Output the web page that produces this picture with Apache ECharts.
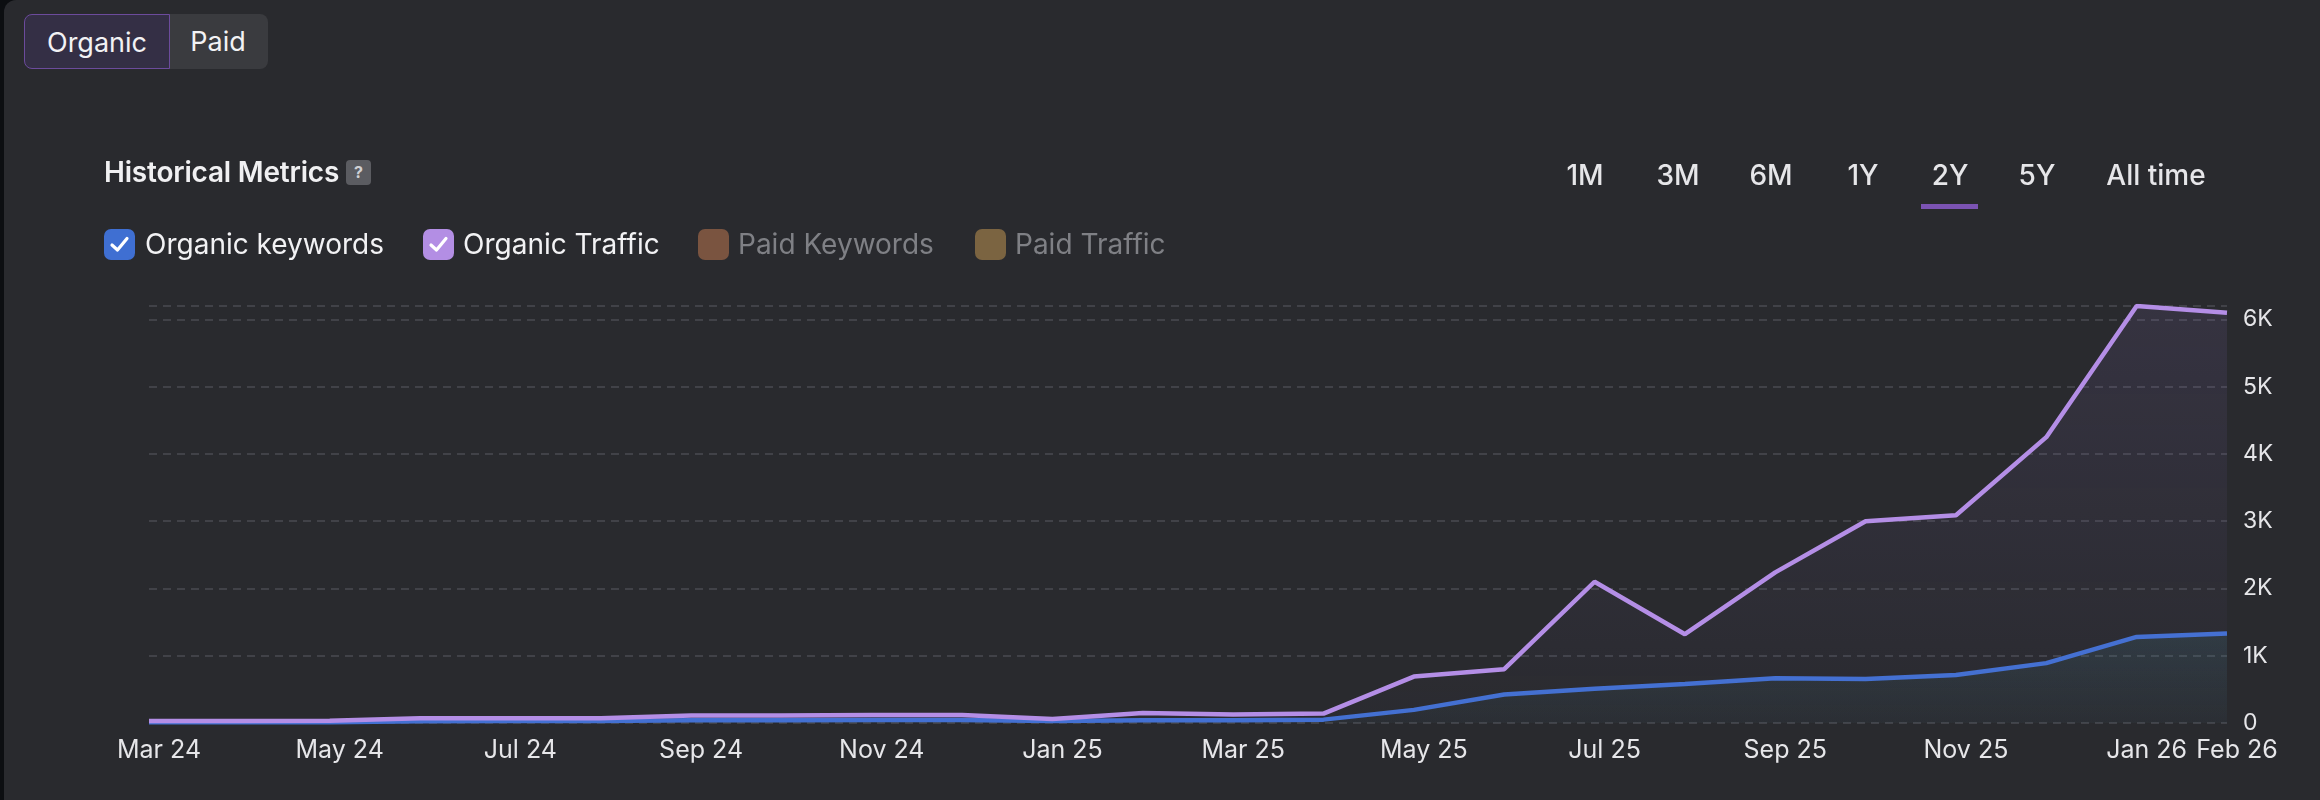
<!DOCTYPE html>
<html>
<head>
<meta charset="utf-8">
<script src="https://cdn.jsdelivr.net/npm/echarts@6/dist/echarts.min.js"></script>
<style>
html,body{margin:0;padding:0;width:2320px;height:800px;overflow:hidden;background:#0c0e11;font-family:Inter,"Noto Sans",sans-serif;}
#panel{position:absolute;left:4px;top:0;width:2316px;height:800px;background:#292a2e;border-top-left-radius:12px;}
#chart{position:absolute;left:0;top:0;width:2320px;height:800px;}
.abs{position:absolute;white-space:nowrap;}
.tog{position:absolute;top:14px;height:55px;line-height:55px;font-size:27px;color:#f2f2f4;text-align:center;box-sizing:border-box;}
#tOrg{left:24px;width:146px;background:#342f45;border:1.5px solid #6c4b9c;border-radius:8px 0 0 8px;z-index:2;}
#tPaid{left:168px;width:100px;background:#3a3b3f;border-radius:0 8px 8px 0;}
#title{left:104px;top:155px;font-size:28px;font-weight:600;color:#f0f0f2;line-height:34px;letter-spacing:-0.2px;}
#help{left:346px;top:160px;width:25px;height:25px;border-radius:4px;background:#5b5c61;color:#cfd0d4;font-size:16px;font-weight:700;line-height:25px;text-align:center;}
.cb{position:absolute;top:229px;width:31px;height:31px;border-radius:7px;}
.cb svg{position:absolute;left:5px;top:6px;}
.lt{position:absolute;top:227px;line-height:35px;font-size:28px;}
.tab{position:absolute;top:157px;line-height:36px;font-size:28px;font-weight:500;color:#e6e6e9;transform:translateX(-50%);}
#ul{left:1921px;top:204px;width:57px;height:5px;background:#7b53b3;}
</style>
</head>
<body>
<div id="panel"></div>
<div id="chart"></div>
<div id="tOrg" class="tog">Organic</div>
<div id="tPaid" class="tog">Paid</div>
<div id="title" class="abs">Historical Metrics</div>
<div id="help" class="abs">?</div>

<div class="cb" style="left:104px;background:#3f6fd2;"><svg width="21" height="19" viewBox="0 0 21 19"><path d="M3 10 L8.5 15 L18 3.5" fill="none" stroke="#fff" stroke-width="3.2" stroke-linecap="round" stroke-linejoin="round"/></svg></div>
<div class="lt" style="left:145px;color:#f2f2f4;">Organic keywords</div>
<div class="cb" style="left:423px;background:#b38ee4;"><svg width="21" height="19" viewBox="0 0 21 19"><path d="M3 10 L8.5 15 L18 3.5" fill="none" stroke="#fff" stroke-width="3.2" stroke-linecap="round" stroke-linejoin="round"/></svg></div>
<div class="lt" style="left:463px;color:#f2f2f4;">Organic Traffic</div>
<div class="cb" style="left:698px;background:#7a5440;"></div>
<div class="lt" style="left:738px;color:#7f8085;">Paid Keywords</div>
<div class="cb" style="left:975px;background:#7b6441;"></div>
<div class="lt" style="left:1015px;color:#7f8085;">Paid Traffic</div>

<div class="tab" style="left:1585px;">1M</div>
<div class="tab" style="left:1678px;">3M</div>
<div class="tab" style="left:1771px;">6M</div>
<div class="tab" style="left:1863px;">1Y</div>
<div class="tab" style="left:1950px;">2Y</div>
<div class="tab" style="left:2037px;">5Y</div>
<div class="tab" style="left:2156px;">All time</div>
<div id="ul" class="abs"></div>

<script>
var months = ['Mar 24','Apr 24','May 24','Jun 24','Jul 24','Aug 24','Sep 24','Oct 24','Nov 24','Dec 24','Jan 25','Feb 25',
              'Mar 25','Apr 25','May 25','Jun 25','Jul 25','Aug 25','Sep 25','Oct 25','Nov 25','Dec 25','Jan 26','Feb 26'];
var organicKeywords = [10,10,12,25,28,30,40,42,45,45,30,40,40,50,195,425,510,580,665,655,715,890,1280,1330];
var organicTraffic  = [30,30,32,70,70,72,110,112,120,118,60,150,125,140,690,800,2100,1320,2240,3000,3090,4250,6200,6100];
var yTicks = [0,1000,2000,3000,4000,5000,6000];
var yMax = 6200;

var chart = echarts.init(document.getElementById('chart'), null, {renderer:'canvas'});
var G = echarts.graphic;
chart.setOption({
  backgroundColor: 'transparent',
  animation: false,
  grid: {left: 149, right: 93, top: 306, bottom: 77, containLabel: false},
  xAxis: {
    type: 'category', data: months, boundaryGap: false,
    axisLine: {show: false}, axisTick: {show: false}, splitLine: {show: false},
    axisLabel: {
      color: '#e6e6e9', fontSize: 25, fontFamily: 'Inter', margin: 15,
      padding: [0,0,0,20],
      interval: function (i) { return i % 2 === 0 || i === months.length - 1; }
    }
  },
  yAxis: {
    type: 'value', position: 'right', min: 0, max: yMax, interval: 1000,
    axisLine: {show: false}, axisTick: {show: false},
    splitLine: {lineStyle: {color: '#4a4b51', width: 1.5, type: [8, 6]}},
    axisLabel: {
      color: '#e6e6e9', fontSize: 23, fontFamily: 'Inter', margin: 16,
      formatter: function (v) {
        if (yTicks.indexOf(v) < 0) return '';
        return v === 0 ? '0' : (v / 1000) + 'K';
      }
    }
  },
  series: [
    {
      name: 'Organic keywords', type: 'line', data: organicKeywords,
      symbol: 'none', lineStyle: {color: '#4270d2', width: 4.5}, itemStyle: {color: '#4270d2'},
      areaStyle: {color: new G.LinearGradient(0,0,0,1,[{offset:0,color:'rgba(70,150,170,0.2)'},{offset:1,color:'rgba(70,150,170,0.05)'}])},
      z: 2
    },
    {
      name: 'Organic Traffic', type: 'line', data: organicTraffic,
      symbol: 'none', lineStyle: {color: '#b48ee6', width: 4.5}, itemStyle: {color: '#b48ee6'},
      areaStyle: {color: new G.LinearGradient(0,0,0,1,[{offset:0,color:'rgba(150,120,210,0.17)'},{offset:1,color:'rgba(150,120,210,0.02)'}])},
      z: 3
    }
  ]
});
</script>
</body>
</html>
